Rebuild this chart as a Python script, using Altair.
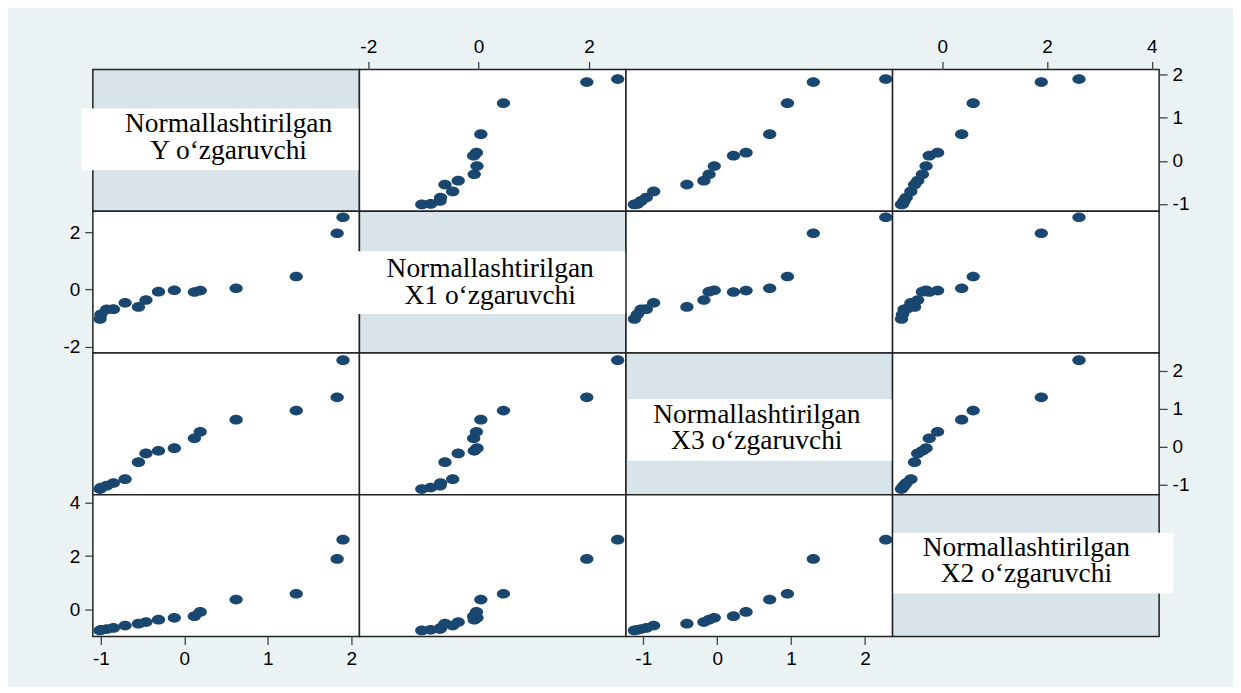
import altair as alt
import pandas as pd

# ---- data ----
var_order = ["Y", "X1", "X3", "X2"]
Y  = [1.90, 1.83, 1.34, 0.62, 0.19, 0.12, -0.12, -0.31, -0.46, -0.55, -0.71, -0.85, -0.93, -1.00, -1.01]
X1 = [2.52, 1.96, 0.45, 0.04, -0.04, -0.09, -0.03, -0.08, -0.37, -0.61, -0.47, -0.69, -0.70, -0.87, -1.03]
X3 = [2.28, 1.30, 0.95, 0.71, 0.39, 0.22, -0.04, -0.11, -0.18, -0.41, -0.86, -0.96, -1.03, -1.08, -1.12]
X2 = [2.61, 1.89, 0.59, 0.37, -0.09, -0.25, -0.31, -0.38, -0.47, -0.53, -0.60, -0.69, -0.73, -0.76, -0.78]

diag_line1 = "Normallashtirilgan"
diag_line2 = {"Y": "Y o‘zgaruvchi", "X1": "X1 o‘zgaruvchi", "X3": "X3 o‘zgaruvchi", "X2": "X2 o‘zgaruvchi"}
tick_values = {"Y": [-1, 0, 1, 2], "X1": [-2, 0, 2], "X3": [-1, 0, 1, 2], "X2": [0, 2, 4]}

# ---- scale ranges (horizontal / vertical) ----
hdom = {"Y": [-1.096, 2.097], "X1": [-2.16, 2.67], "X3": [-1.234, 2.372], "X2": [-0.95, 4.14]}
vdom = {"Y": [-1.169, 2.123], "X1": [-2.22, 2.73], "X3": [-1.27, 2.47], "X2": [-1.01, 4.29]}

# label box placement inside each diagonal panel (pixels relative to panel)
box_pos = {
    "Y":  dict(x0=-11, x1=268, y0=39, y1=101, tx=136, ty=63),
    "X1": dict(x0=-20, x1=268, y0=40, y1=103, tx=131, ty=66),
    "X3": dict(x0=2, x1=267, y0=46, y1=108, tx=131, ty=70),
    "X2": dict(x0=1, x1=281, y0=38, y1=99, tx=134, ty=61),
}

df = pd.DataFrame({"Y": Y, "X1": X1, "X3": X3, "X2": X2})

W, H = 267, 142
LINE_GAP = 26.5
FONT_SIZE = 27.5
MARKER = "#1A476F"
DIAG_FILL = "#D8E4EA"
BG = "#EAF2F3"
ellipse = ("M 1 0 C 1 0.4032 0.5523 0.73 0 0.73 C -0.5523 0.73 -1 0.4032 -1 0 "
           "C -1 -0.4032 -0.5523 -0.73 0 -0.73 C 0.5523 -0.73 1 -0.4032 1 0 Z")


def make_axis(orient, var):
    return alt.Axis(
        orient=orient, values=tick_values[var], grid=False, domain=False,
        ticks=True, tickSize=8, tickColor="#444", tickWidth=1.3,
        labels=True, labelFont="Liberation Sans", labelFontSize=19,
        labelColor="black", labelPadding=5, labelExpr="'' + datum.value",
        labelFlush=False, labelOverlap=False, title=None,
    )


panels = []
for r, rv in enumerate(var_order):
    for c, cv in enumerate(var_order):
        if r == c:
            p = box_pos[rv]
            ldf = pd.DataFrame({"l1": [diag_line1], "l2": [diag_line2[rv]]})
            box = alt.Chart(ldf).mark_rect(color="white", opacity=1).encode(
                x=alt.value(p["x0"]), x2=alt.value(p["x1"]),
                y=alt.value(p["y0"]), y2=alt.value(p["y1"]),
            )
            t1 = alt.Chart(ldf).mark_text(
                font="Liberation Serif", fontSize=FONT_SIZE, color="black",
                align="center", baseline="alphabetic",
            ).encode(x=alt.value(p["tx"]), y=alt.value(p["ty"]), text="l1:N")
            t2 = alt.Chart(ldf).mark_text(
                font="Liberation Serif", fontSize=FONT_SIZE, color="black",
                align="center", baseline="alphabetic",
            ).encode(x=alt.value(p["tx"]), y=alt.value(p["ty"] + LINE_GAP), text="l2:N")
            panel = alt.layer(box, t1, t2).properties(
                width=W, height=H,
                view=alt.ViewBackground(fill=DIAG_FILL, stroke="#222", strokeWidth=1.5),
            )
        else:
            if r == 0 and c in (1, 3):
                xa = make_axis("top", cv)
            elif r == 3 and c in (0, 2):
                xa = make_axis("bottom", cv)
            else:
                xa = None
            if c == 0 and r in (1, 3):
                ya = make_axis("left", rv)
            elif c == 3 and r in (0, 2):
                ya = make_axis("right", rv)
            else:
                ya = None
            panel = alt.Chart(df).mark_point(
                shape=ellipse, filled=True, size=177, color=MARKER, opacity=1, strokeWidth=0,
            ).encode(
                x=alt.X(f"{cv}:Q", scale=alt.Scale(domain=hdom[cv], nice=False, zero=False), axis=xa),
                y=alt.Y(f"{rv}:Q", scale=alt.Scale(domain=vdom[rv], nice=False, zero=False), axis=ya),
            ).properties(
                width=W, height=H,
                view=alt.ViewBackground(fill="white", stroke="#222", strokeWidth=1.5),
            )
        panels.append(panel)

chart = alt.concat(*panels, columns=4, spacing=0, bounds="flush").properties(
    background=BG,
    padding={"left": 54, "top": 28, "right": 43, "bottom": 17},
)

chart.save("out.html", embed_options={"renderer": "svg", "actions": False})
